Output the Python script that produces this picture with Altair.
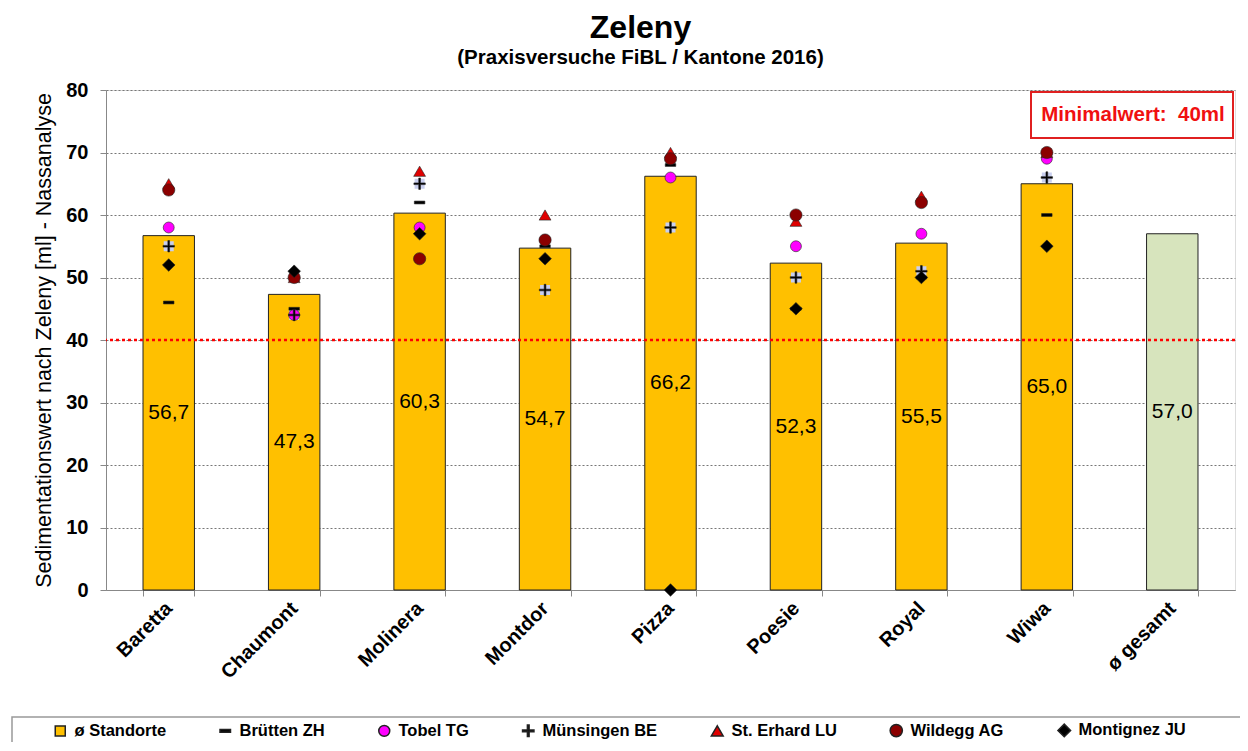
import altair as alt
import pandas as pd

FONT = "Liberation Sans"

categories = ["Baretta", "Chaumont", "Molinera", "Montdor", "Pizza", "Poesie", "Royal", "Wiwa", "ø gesamt"]
mean_values = [56.7, 47.3, 60.3, 54.7, 66.2, 52.3, 55.5, 65.0, 57.0]
bar_fills = ["#FFC000"] * 8 + ["#D7E4BD"]

sites = categories[:8]
series_names = ["Brütten ZH", "Tobel TG", "Münsingen BE", "St. Erhard LU", "Wildegg AG", "Montignez JU"]
bruetten = [46, 45, 62, 55, 68, 45, 50, 60]
tobel = [58, 44, 58, 56, 66, 55, 57, 69]
muensingen = [55, 44, 65, 48, 58, 50, 51, 66]
erhard = [65, 50, 67, 60, 70, 59, 63, 70]
wildegg = [64, 50, 53, 56, 69, 60, 62, 70]
montignez = [52, 51, 57, 53, 0, 45, 50, 55]

legend_names = ["ø Standorte"] + series_names
legend_colors = ["#FFC000", "#000000", "#FF00FF", "#000000", "#E00000", "#8B0000", "#000000"]
dash_path = "M-1,-0.27H1V0.27H-1Z"
plus_path = "M-0.15,-1H0.15V-0.15H1V0.15H0.15V1H-0.15V0.15H-1V-0.15H-0.15Z"
legend_shapes = ["square", dash_path, "circle", plus_path, "triangle-up", "circle", "diamond"]
point_sizes = [100, 160, 70, 45, 70, 72, 64]

bars = pd.DataFrame({
    "cat": categories,
    "value": mean_values,
    "fill": bar_fills,
    "label": [f"{v:.1f}".replace(".", ",") for v in mean_values],
})

rows = []
for name, vals in zip(series_names, [bruetten, tobel, muensingen, erhard, wildegg, montignez]):
    for c, v in zip(sites, vals):
        rows.append({"cat": c, "series": name, "value": v})
points = pd.DataFrame(rows)

x_enc = alt.X(
    "cat:N",
    sort=categories,
    scale=alt.Scale(domain=categories, paddingInner=0.59, paddingOuter=0.295),
    axis=alt.Axis(
        title=None, labelAngle=-45, labelAlign="right", labelBaseline="middle",
        labelFont=FONT, labelFontSize=20, labelFontWeight="bold", labelColor="black",
        tickBand="extent", tickSize=6, tickColor="#888", domainColor="#888",
        labelPadding=9, grid=False,
    ),
)
y_scale = alt.Scale(domain=[0, 80], nice=False)
y_axis = alt.Axis(
    values=[0, 10, 20, 30, 40, 50, 60, 70, 80],
    title="Sedimentationswert nach Zeleny [ml] - Nassanalyse",
    titleFont=FONT, titleFontSize=21.5, titleFontWeight="normal", titleColor="black",
    titlePadding=10,
    labelFont=FONT, labelFontSize=20, labelFontWeight="bold", labelColor="black",
    labelPadding=12, tickSize=6, tickColor="#888", domainColor="#888",
    grid=True, gridDash=[2, 2], gridColor="#777", gridWidth=1,
)

legend_def = alt.Legend(
    title=None, orient="none", legendX=-54, legendY=632, direction="horizontal",
    columnPadding=50, labelOffset=6, labelFont=FONT, labelFontSize=16.5,
    labelFontWeight="bold", labelColor="black", symbolSize=90, padding=0,
    values=legend_names,
)

bar_layer = alt.Chart(bars).mark_bar(stroke="#222", strokeWidth=1).encode(
    x=x_enc,
    y=alt.Y("value:Q", scale=y_scale, axis=y_axis),
    fill=alt.Fill("fill:N", scale=None),
)

text_layer = alt.Chart(bars).transform_calculate(half="datum.value / 2").mark_text(
    font=FONT, fontSize=21, color="black"
).encode(
    x=alt.X("cat:N", sort=categories),
    y=alt.Y("half:Q"),
    text="label:N",
)

rule_layer = alt.Chart(pd.DataFrame({"y": [40]})).mark_rule(
    color="#FF0000", strokeDash=[3, 3], strokeWidth=2.5
).encode(y="y:Q")

bg_layer = alt.Chart(points).transform_filter(
    alt.datum.series == "Münsingen BE"
).mark_square(color="#C9CFEF", size=100, opacity=1).encode(
    x=alt.X("cat:N", sort=categories),
    y="value:Q",
)

point_layer = alt.Chart(points).transform_calculate(
    order="indexof(" + str(series_names) + ", datum.series)"
).mark_point(
    filled=True, stroke="#222", strokeWidth=0.6, opacity=1
).encode(
    x=alt.X("cat:N", sort=categories),
    y="value:Q",
    color=alt.Color("series:N", scale=alt.Scale(domain=legend_names, range=legend_colors), legend=legend_def),
    shape=alt.Shape("series:N", scale=alt.Scale(domain=legend_names, range=legend_shapes), legend=legend_def),
    size=alt.Size("series:N", scale=alt.Scale(domain=legend_names, range=point_sizes), legend=None),
    order=alt.Order("order:Q"),
)

box_layer = alt.Chart(alt.Data(values=[{}])).mark_rect(
    fill="white", stroke="#E02020", strokeWidth=2
).encode(x=alt.value(925), x2=alt.value(1127), y=alt.value(2), y2=alt.value(48))

box_text = alt.Chart(alt.Data(values=[{}])).mark_text(
    text="Minimalwert:\u00a0 40ml", font=FONT, fontSize=20.5, fontWeight="bold", color="#F01010"
).encode(x=alt.value(1027), y=alt.value(25))

legend_frame = alt.Chart(alt.Data(values=[{}])).mark_rect(
    fillOpacity=0, stroke="#999", strokeWidth=1.5
).encode(x=alt.value(-94), x2=alt.value(1200), y=alt.value(627), y2=alt.value(700))

chart = alt.layer(
    bar_layer, text_layer, rule_layer, bg_layer, point_layer, box_layer, box_text, legend_frame
).properties(
    width=1129,
    height=500,
    autosize=alt.AutoSizeParams(type="none"),
    padding={"left": 98, "top": 82, "right": 5, "bottom": 152},
    title=alt.TitleParams(
        "Zeleny",
        subtitle="(Praxisversuche FiBL / Kantone 2016)",
        font=FONT, fontSize=32, fontWeight="bold", color="black",
        subtitleFont=FONT, subtitleFontSize=20.5, subtitleFontWeight="bold", subtitleColor="black",
        anchor="middle", dx=-30, offset=11, subtitlePadding=3,
    ),
).configure_view(
    stroke="#8c8c8c", strokeWidth=1.5
).configure(background="white")

chart.save("out.html", embed_options={"renderer": "svg", "actions": False})
